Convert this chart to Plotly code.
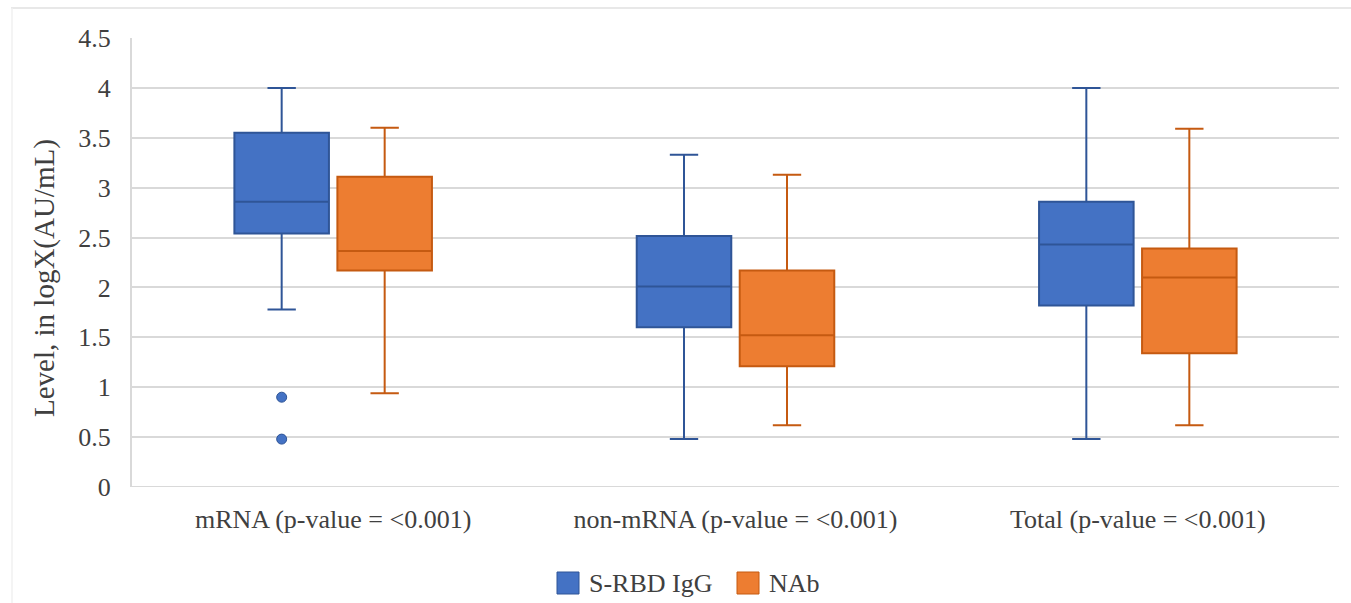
import plotly.graph_objects as go

categories = ["mRNA (p-value = <0.001)", "non-mRNA (p-value = <0.001)", "Total (p-value = <0.001)"]
series_names = ["S-RBD IgG", "NAb"]

igg_low = [1.78, 0.48, 0.48]
igg_q1 = [2.54, 1.60, 1.82]
igg_med = [2.86, 2.01, 2.43]
igg_q3 = [3.55, 2.515, 2.86]
igg_high = [4.00, 3.33, 4.00]
igg_outliers_cat = [0, 0]
igg_outliers_val = [0.90, 0.48]

nab_low = [0.94, 0.62, 0.62]
nab_q1 = [2.17, 1.21, 1.34]
nab_med = [2.365, 1.52, 2.10]
nab_q3 = [3.11, 2.17, 2.39]
nab_high = [3.60, 3.13, 3.59]

y_ticks = [0, 0.5, 1, 1.5, 2, 2.5, 3, 3.5, 4, 4.5]
y_ticklabels = ["0", "0.5", "1", "1.5", "2", "2.5", "3", "3.5", "4", "4.5"]
y_title = "Level, in logX(AU/mL)"

OFFSET = 0.128
BOX_W = 0.235
BLUE_FILL, BLUE_LINE = "#4472C4", "#2F5597"
ORANGE_FILL, ORANGE_LINE = "#ED7D31", "#C55A11"
FONT = "Liberation Serif"
TXT = "#404040"

# plot-area geometry in pixels (for decorations / manual legend)
W, H = 1351, 603
L, R, T, B = 132, 12, 38, 116
PW, PH = W - L - R, H - T - B


def px(x):
    return (x - L) / PW


def py(y):
    return (H - B - y) / PH


idx = list(range(len(categories)))
fig = go.Figure()
fig.add_trace(go.Box(
    name=series_names[0], x=[i - OFFSET for i in idx],
    q1=igg_q1, median=igg_med, q3=igg_q3, lowerfence=igg_low, upperfence=igg_high,
    width=BOX_W, whiskerwidth=0.3, fillcolor=BLUE_FILL,
    line=dict(color=BLUE_LINE, width=2), boxpoints=False, hoverinfo="y",
    showlegend=False,
))
fig.add_trace(go.Box(
    name=series_names[1], x=[i + OFFSET for i in idx],
    q1=nab_q1, median=nab_med, q3=nab_q3, lowerfence=nab_low, upperfence=nab_high,
    width=BOX_W, whiskerwidth=0.3, fillcolor=ORANGE_FILL,
    line=dict(color=ORANGE_LINE, width=2), boxpoints=False, hoverinfo="y",
    showlegend=False,
))
fig.add_trace(go.Scatter(
    x=[c - OFFSET for c in igg_outliers_cat], y=igg_outliers_val, mode="markers",
    marker=dict(color=BLUE_FILL, size=10, line=dict(color=BLUE_LINE, width=1)),
    showlegend=False, hoverinfo="y",
))

shapes = [
    dict(type="line", xref="paper", yref="paper", x0=px(11), x1=px(W + 5),
         y0=py(8), y1=py(8), line=dict(color="#E0E0E0", width=1.5)),
    dict(type="line", xref="paper", yref="paper", x0=px(12), x1=px(12),
         y0=py(8), y1=py(H + 5), line=dict(color="#F0F0F0", width=1.5)),
    dict(type="line", xref="paper", yref="y", x0=0, x1=1, y0=0, y1=0,
         line=dict(color="#D9D9D9", width=2), layer="below"),
]
annotations = [
    dict(text=y_title, xref="paper", yref="paper", x=px(44), y=py(278),
         xanchor="center", yanchor="middle", textangle=-90, showarrow=False,
         font=dict(size=29, family=FONT, color=TXT)),
]

# manual legend (square swatches)
legend_items = [(series_names[0], BLUE_FILL, BLUE_LINE, 557), (series_names[1], ORANGE_FILL, ORANGE_LINE, 737)]
for name, fill, line, x0 in legend_items:
    shapes.append(dict(type="rect", xref="paper", yref="paper",
                       x0=px(x0), x1=px(x0 + 22), y0=py(594), y1=py(572),
                       fillcolor=fill, line=dict(color=line, width=1)))
    annotations.append(dict(text=name, xref="paper", yref="paper", x=px(x0 + 30), y=py(583),
                            xanchor="left", yanchor="middle", showarrow=False,
                            font=dict(size=26, family=FONT, color=TXT)))

fig.update_layout(
    width=W, height=H,
    margin=dict(l=L, r=R, t=T, b=B, autoexpand=False),
    paper_bgcolor="white", plot_bgcolor="white",
    font=dict(family=FONT, color=TXT, size=26),
    showlegend=False,
    xaxis=dict(range=[-0.5, 2.5], tickvals=idx, ticktext=categories, showgrid=False,
               zeroline=False, showline=False, ticks="", tickfont=dict(size=26),
               ticklabelstandoff=14),
    yaxis=dict(range=[0, 4.5], tickvals=y_ticks, ticktext=y_ticklabels, showgrid=True,
               gridcolor="#D9D9D9", gridwidth=2, zeroline=False, showline=True,
               linecolor="#D9D9D9", linewidth=2, ticks="", tickfont=dict(size=26),
               ticklabelstandoff=14),
    shapes=shapes,
    annotations=annotations,
)
fig.write_html("out.html")
